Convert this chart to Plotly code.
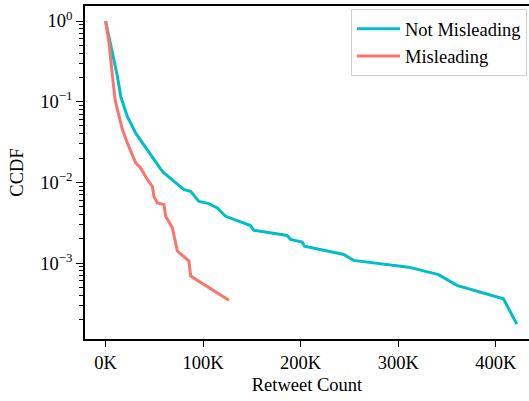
import plotly.graph_objects as go

# Not Misleading CCDF (x in retweets, y = CCDF)
nm_x = [0, 3600, 8700, 12200, 15600, 22400, 30900, 37800, 46300, 56500, 59900,
        70100, 80300, 87200, 95700, 105900, 114500, 123000, 140100, 148600,
        152000, 186200, 189600, 201500, 203900, 244100, 254300, 310600,
        341300, 360200, 407900, 421600]
nm_y = [1.0, 0.634, 0.332, 0.204, 0.115, 0.0653, 0.0407, 0.0306, 0.0219,
        0.0146, 0.0131, 0.0103, 0.00813, 0.00774, 0.00582, 0.00546, 0.00483,
        0.0038, 0.0032, 0.00292, 0.00255, 0.0022, 0.00196, 0.00182, 0.00162,
        0.00128, 0.00108, 0.00089, 0.00072, 0.00053, 0.00036, 0.000175]

# Misleading CCDF
m_x = [0, 1900, 3600, 7100, 9700, 12200, 17300, 22400, 27500, 30900, 36000,
       42900, 48000, 49600, 53100, 59900, 61600, 68500, 73600, 85500, 87200,
       126400]
m_y = [1.0, 0.705, 0.526, 0.204, 0.107, 0.079, 0.0448, 0.0306, 0.022,
       0.0174, 0.0151, 0.0108, 0.0089, 0.0067, 0.00557, 0.0053, 0.0038,
       0.00273, 0.00141, 0.00106, 0.00069, 0.000347]

x_tickvals = [0, 100000, 200000, 300000, 400000]
x_ticktext = ["0K", "100K", "200K", "300K", "400K"]
y_tickvals = [1e-3, 1e-2, 1e-1, 1e0]
y_ticktext = ["10<sup>\u22123</sup>", "10<sup>\u22122</sup>", "10<sup>\u22121</sup>", "10<sup>0</sup>"]
y_minor = [m * 10 ** k for k in range(-4, 0) for m in range(2, 10)]

FONT = "Liberation Serif"
FS = 18.5

fig = go.Figure()
fig.add_trace(go.Scatter(x=nm_x, y=nm_y, mode="lines", name="Not Misleading",
                         line=dict(color="#00BFC4", width=3)))
fig.add_trace(go.Scatter(x=m_x, y=m_y, mode="lines", name="Misleading",
                         line=dict(color="#F8766D", width=3)))

fig.update_layout(
    width=529, height=401,
    margin=dict(l=85, r=0, t=6, b=62),
    paper_bgcolor="white", plot_bgcolor="white",
    font=dict(family=FONT, size=FS, color="black"),
    showlegend=True,
    legend=dict(x=0.9955, y=0.99, xanchor="right", yanchor="top",
                bordercolor="#d0d0d0", borderwidth=1, bgcolor="rgba(255,255,255,0.8)",
                itemwidth=43,
                font=dict(family=FONT, size=FS)),
    xaxis=dict(range=[-21100, 434100], tickvals=x_tickvals, ticktext=x_ticktext,
               showgrid=False, zeroline=False, showline=True, linecolor="black",
               linewidth=1.5, mirror=True, ticks="outside", ticklen=6, tickwidth=1.2,
               tickcolor="black",
               title=dict(text="Retweet Count", standoff=6, font=dict(size=FS))),
    yaxis=dict(type="log", range=[-3.941, 0.186], tickvals=y_tickvals, ticktext=y_ticktext,
               showgrid=False, zeroline=False, showline=True, linecolor="black",
               linewidth=1.5, mirror=False, ticks="outside", ticklen=7, tickwidth=1.2,
               tickcolor="black",
               minor=dict(tickvals=y_minor, ticks="outside", ticklen=4, tickwidth=1,
                          tickcolor="black", showgrid=False),
               title=dict(text="CCDF", standoff=12, font=dict(size=FS))),
)

fig.write_html("out.html", config={"displayModeBar": False},
               post_script="document.body.style.margin='0';")
